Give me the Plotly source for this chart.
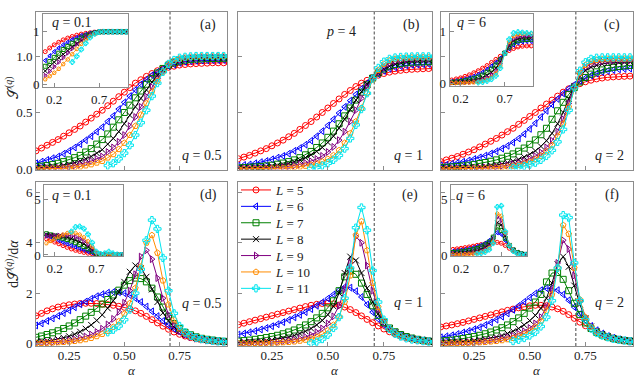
import plotly.graph_objects as go

W, H = 640, 379

# ---------------- data ----------------
alpha = [0.1, 0.125, 0.15, 0.175, 0.2, 0.225, 0.25, 0.275, 0.3, 0.325, 0.35, 0.375,
         0.4, 0.425, 0.45, 0.475, 0.5, 0.525, 0.55, 0.575, 0.6, 0.625, 0.65, 0.675,
         0.7, 0.725, 0.75, 0.775, 0.8, 0.825, 0.85, 0.875, 0.9, 0.925, 0.95, 0.975]
alpha_L11 = [0.425, 0.45, 0.475, 0.5, 0.525, 0.55, 0.575, 0.6, 0.625, 0.65, 0.675, 0.7,
             0.725, 0.75, 0.775, 0.8, 0.825, 0.85, 0.875, 0.9, 0.925, 0.95, 0.975]
alpha_in = [0.1, 0.15, 0.2, 0.25, 0.3, 0.35, 0.4, 0.45, 0.5, 0.55, 0.6, 0.65, 0.7,
            0.75, 0.8, 0.85, 0.9, 0.95, 1.0]
alpha_in_L11 = [0.4, 0.45, 0.5, 0.55, 0.6, 0.65, 0.7, 0.75, 0.8, 0.85, 0.9, 0.95, 1.0]
alpha_c = 0.707

L_sizes = [5, 6, 7, 8, 9, 10, 11]

# S^(q), q = 0.5  (panel a)
S_q05 = [
    [.16, .185, .21, .235, .26, .29, .32, .35, .38, .415, .45, .485, .52, .56, .60, .64, .68, .72,
     .76, .79, .82, .845, .87, .885, .90, .91, .92, .925, .93, .933, .935, .937, .94, .94, .94, .94],
    [.05, .065, .08, .095, .11, .135, .16, .19, .22, .255, .29, .33, .37, .42, .47, .53, .59, .645,
     .70, .75, .79, .83, .86, .885, .91, .925, .94, .948, .955, .958, .96, .962, .963, .964, .965, .965],
    [.02, .025, .03, .04, .05, .065, .08, .10, .12, .15, .18, .22, .26, .31, .37, .435, .50, .565,
     .63, .69, .75, .80, .85, .89, .92, .94, .955, .963, .97, .973, .975, .977, .978, .979, .98, .98],
    [.01, .012, .015, .018, .02, .03, .04, .055, .07, .09, .11, .14, .17, .22, .27, .33, .40, .475,
     .55, .625, .70, .77, .83, .88, .92, .945, .96, .972, .98, .983, .985, .986, .987, .988, .988, .988],
    [.005, .006, .007, .008, .01, .015, .02, .03, .04, .055, .07, .09, .11, .15, .19, .24, .30, .38,
     .46, .55, .64, .725, .80, .865, .92, .95, .97, .98, .985, .988, .99, .99, .991, .992, .992, .992],
    [0, 0, .001, .002, .003, .005, .01, .015, .02, .03, .04, .055, .07, .10, .13, .175, .23, .30,
     .38, .48, .58, .685, .78, .86, .92, .955, .975, .985, .99, .993, .995, .995, .996, .996, .996, .996],
    [.03, .05, .09, .14, .21, .30, .41, .52, .645, .76, .86, .93, .965, .985, .993, .997, 1.0, 1.0,
     1.0, 1.0, 1.0, 1.0, 1.0],
]

# S^(q), q = 1  (panel b)
S_q1 = [
    [.09, .105, .12, .14, .16, .18, .205, .23, .255, .285, .315, .35, .385, .42, .46, .50, .54, .58,
     .62, .66, .695, .73, .76, .785, .81, .83, .845, .857, .866, .873, .878, .882, .885, .887, .889, .89],
    [.03, .035, .04, .05, .06, .07, .085, .10, .115, .135, .16, .185, .215, .25, .29, .335, .385, .44,
     .495, .55, .605, .66, .71, .76, .805, .84, .868, .888, .90, .91, .917, .922, .925, .927, .929, .93],
    [.01, .012, .015, .018, .022, .027, .033, .042, .052, .065, .08, .10, .125, .155, .19, .23, .28, .335,
     .40, .47, .54, .61, .68, .745, .805, .85, .885, .91, .925, .935, .941, .945, .947, .949, .95, .95],
    [.005, .006, .008, .01, .013, .017, .022, .03, .038, .05, .063, .08, .10, .125, .155, .19, .235, .29,
     .36, .44, .525, .61, .685, .75, .805, .85, .885, .91, .93, .942, .95, .955, .96, .962, .964, .965],
    [.002, .003, .003, .004, .005, .007, .009, .012, .016, .022, .03, .04, .052, .068, .088, .115, .15, .195,
     .255, .33, .42, .52, .625, .72, .80, .86, .905, .935, .952, .962, .968, .972, .974, .975, .976, .976],
    [0, 0, .001, .001, .002, .003, .004, .006, .008, .011, .015, .02, .027, .036, .048, .065, .088, .12,
     .165, .23, .315, .42, .54, .67, .79, .875, .93, .96, .974, .98, .984, .986, .987, .988, .988, .988],
    [.005, .015, .03, .05, .08, .12, .18, .27, .39, .53, .67, .80, .895, .95, .975, .987, .992, .995,
     .996, .997, .997, .997, .997],
]

# S^(q), q = 2  (panel c)
S_q2 = [
    [.065, .08, .095, .11, .13, .15, .17, .195, .22, .245, .27, .30, .33, .36, .395, .43, .465, .50,
     .54, .575, .61, .645, .68, .71, .735, .755, .772, .786, .797, .805, .811, .815, .818, .82, .822, .823],
    [.03, .037, .045, .054, .064, .075, .088, .102, .118, .136, .156, .18, .205, .235, .27, .31, .355, .405,
     .46, .515, .57, .62, .668, .71, .746, .778, .805, .827, .845, .858, .868, .876, .882, .886, .889, .89],
    [.012, .015, .018, .022, .027, .033, .04, .048, .057, .068, .08, .095, .112, .133, .157, .185, .218, .257,
     .303, .36, .44, .515, .59, .66, .72, .77, .81, .84, .86, .877, .89, .90, .907, .913, .917, .92],
    [.004, .005, .006, .007, .009, .011, .014, .018, .022, .028, .035, .044, .055, .068, .085, .105, .13, .16,
     .20, .25, .315, .40, .50, .62, .735, .82, .87, .90, .918, .93, .937, .942, .945, .947, .948, .95],
    [.002, .002, .003, .003, .004, .005, .007, .009, .012, .015, .02, .026, .033, .042, .054, .069, .088, .113,
     .146, .19, .25, .33, .44, .58, .73, .84, .90, .93, .945, .952, .956, .958, .96, .96, .96, .96],
    [0, 0, .001, .001, .002, .002, .003, .004, .006, .008, .011, .015, .02, .027, .036, .048, .064, .085,
     .115, .155, .21, .29, .40, .55, .72, .85, .92, .952, .965, .97, .973, .975, .975, .975, .975, .975],
    [.01, .017, .026, .038, .055, .08, .115, .165, .24, .35, .52, .72, .87, .945, .975, .985, .988, .988,
     .988, .988, .988, .988, .988],
]

# dS^(q)/d alpha, q = 0.5  (panel d)
D_q05 = [
    [1.10, 1.20, 1.30, 1.38, 1.45, 1.50, 1.54, 1.57, 1.59, 1.60, 1.60, 1.59, 1.57, 1.55, 1.52, 1.48, 1.44, 1.38,
     1.30, 1.20, 1.08, .95, .82, .69, .57, .46, .37, .30, .24, .19, .16, .13, .11, .09, .08, .07],
    [.72, .80, .90, 1.0, 1.1, 1.21, 1.32, 1.44, 1.56, 1.67, 1.78, 1.88, 1.96, 2.02, 2.05, 2.04, 2.0, 1.92,
     1.8, 1.65, 1.47, 1.28, 1.09, .90, .73, .59, .47, .37, .29, .23, .18, .15, .12, .10, .08, .07],
    [.25, .30, .36, .43, .51, .60, .70, .82, .95, 1.09, 1.24, 1.40, 1.57, 1.75, 1.93, 2.12, 2.32, 2.50,
     2.60, 2.58, 2.45, 2.20, 1.85, 1.45, 1.08, .80, .60, .45, .35, .27, .21, .17, .14, .11, .09, .08],
    [.07, .09, .11, .14, .18, .23, .29, .37, .47, .59, .74, .92, 1.14, 1.40, 1.70, 2.05, 2.45, 2.85,
     3.10, 3.0, 2.65, 2.15, 1.65, 1.22, .90, .66, .50, .38, .29, .22, .17, .14, .11, .09, .08, .07],
    [.03, .04, .05, .06, .08, .10, .13, .17, .22, .28, .36, .46, .59, .76, .98, 1.26, 1.62, 2.10,
     2.75, 3.45, 3.70, 3.35, 2.60, 1.80, 1.15, .75, .50, .35, .26, .20, .16, .13, .11, .09, .08, .07],
    [.02, .02, .03, .04, .05, .06, .08, .10, .13, .17, .22, .29, .38, .50, .66, .88, 1.18, 1.60,
     2.20, 3.05, 4.0, 4.30, 3.60, 2.50, 1.55, .95, .60, .40, .28, .21, .16, .13, .11, .09, .08, .07],
    [.45, .55, .70, .95, 1.35, 2.0, 2.95, 4.10, 4.90, 4.55, 3.40, 2.10, 1.20, .70, .45, .31, .23, .18,
     .14, .11, .09, .08, .07],
]

# dS^(q)/d alpha, q = 1  (panel e)
D_q1 = [
    [.75, .81, .87, .93, .99, 1.05, 1.11, 1.17, 1.23, 1.29, 1.35, 1.41, 1.47, 1.52, 1.56, 1.59, 1.60, 1.58,
     1.53, 1.45, 1.35, 1.23, 1.10, .96, .83, .70, .58, .47, .38, .30, .24, .19, .15, .12, .10, .08],
    [.36, .40, .45, .50, .56, .62, .69, .77, .85, .94, 1.04, 1.14, 1.25, 1.37, 1.50, 1.64, 1.79, 1.95,
     2.12, 2.24, 2.22, 2.08, 1.85, 1.55, 1.25, .97, .74, .56, .43, .33, .26, .20, .16, .13, .10, .08],
    [.10, .12, .14, .17, .20, .24, .28, .33, .39, .46, .54, .63, .74, .87, 1.02, 1.20, 1.42, 1.70,
     2.10, 2.65, 2.88, 2.75, 2.40, 1.95, 1.50, 1.12, .83, .62, .47, .36, .28, .22, .17, .13, .10, .08],
    [.04, .05, .06, .07, .09, .11, .14, .17, .21, .26, .32, .40, .49, .60, .74, .92, 1.15, 1.48,
     2.0, 2.80, 3.45, 3.30, 2.80, 2.20, 1.65, 1.18, .84, .60, .44, .33, .25, .19, .15, .12, .09, .07],
    [.02, .02, .03, .03, .04, .05, .06, .07, .09, .12, .15, .20, .26, .34, .45, .60, .80, 1.08,
     1.50, 2.15, 3.20, 4.25, 4.00, 3.10, 2.10, 1.35, .88, .60, .43, .32, .25, .19, .15, .12, .09, .07],
    [.01, .01, .01, .02, .02, .03, .03, .04, .05, .06, .08, .11, .15, .20, .27, .37, .52, .74,
     1.08, 1.65, 2.70, 4.30, 4.85, 3.70, 2.40, 1.45, .90, .60, .42, .31, .24, .18, .14, .11, .09, .07],
    [.02, .08, .18, .35, .62, 1.05, 1.80, 3.0, 4.6, 5.4, 4.5, 2.9, 1.65, .95, .58, .39, .28, .21,
     .16, .13, .10, .08, .07],
]

# dS^(q)/d alpha, q = 2  (panel f)
D_q2 = [
    [.66, .70, .74, .79, .84, .90, .96, 1.02, 1.08, 1.14, 1.20, 1.26, 1.32, 1.37, 1.42, 1.46, 1.50, 1.52,
     1.52, 1.50, 1.45, 1.38, 1.28, 1.15, 1.0, .85, .71, .58, .46, .36, .28, .22, .17, .13, .10, .08],
    [.25, .29, .33, .38, .44, .50, .57, .65, .74, .84, .95, 1.07, 1.20, 1.34, 1.50, 1.66, 1.83, 1.99,
     2.12, 2.20, 2.20, 2.12, 1.95, 1.72, 1.45, 1.17, .92, .70, .53, .40, .30, .23, .17, .13, .10, .08],
    [.10, .12, .14, .17, .20, .24, .28, .33, .39, .46, .54, .63, .74, .87, 1.02, 1.20, 1.41, 1.65,
     1.95, 2.45, 2.80, 2.82, 2.55, 2.10, 1.60, 1.15, .82, .60, .45, .34, .26, .20, .16, .12, .10, .08],
    [.03, .04, .05, .06, .07, .09, .11, .14, .17, .21, .26, .32, .40, .49, .60, .74, .91, 1.12,
     1.40, 1.80, 2.40, 3.15, 3.45, 3.05, 2.30, 1.55, 1.0, .68, .50, .38, .29, .22, .17, .13, .10, .08],
    [.02, .02, .03, .03, .04, .05, .06, .08, .10, .13, .16, .20, .25, .31, .39, .49, .62, .80,
     1.05, 1.45, 2.10, 3.20, 4.10, 3.75, 2.70, 1.70, 1.05, .68, .48, .36, .28, .21, .16, .12, .09, .07],
    [.01, .01, .015, .02, .025, .03, .04, .05, .06, .08, .10, .13, .17, .22, .29, .38, .50, .66,
     .90, 1.30, 1.95, 3.0, 4.70, 4.35, 3.0, 1.75, 1.05, .66, .46, .34, .26, .20, .15, .12, .09, .07],
    [.10, .15, .22, .32, .46, .68, 1.05, 1.70, 3.0, 5.1, 5.0, 3.2, 1.7, .95, .60, .42, .32, .25,
     .19, .15, .12, .09, .07],
]

# insets: S^(q) for q = 0.1 and q = 6
S_q01 = [
    [.62, .69, .75, .80, .845, .88, .91, .935, .955, .97, .982, .992, .998, 1.0, 1.0, 1.0, 1.0, 1.0, 1.0],
    [.45, .54, .62, .69, .75, .80, .85, .89, .925, .95, .97, .985, .997, 1.0, 1.0, 1.0, 1.0, 1.0, 1.0],
    [.34, .43, .51, .59, .66, .72, .78, .83, .88, .92, .955, .98, .995, 1.0, 1.0, 1.0, 1.0, 1.0, 1.0],
    [.25, .34, .42, .50, .57, .64, .71, .77, .83, .88, .93, .97, .995, 1.0, 1.0, 1.0, 1.0, 1.0, 1.0],
    [.16, .245, .33, .42, .505, .595, .68, .765, .84, .90, .95, .985, .998, 1.0, 1.0, 1.0, 1.0, 1.0, 1.0],
    [.09, .15, .215, .29, .38, .47, .57, .67, .77, .85, .92, .97, .995, 1.0, 1.0, 1.0, 1.0, 1.0, 1.0],
    [.42, .53, .66, .78, .89, .96, .995, 1.0, 1.0, 1.0, 1.0, 1.0, 1.0],
]
S_q6 = [
    [.06, .08, .10, .13, .16, .20, .24, .29, .34, .40, .46, .52, .58, .63, .67, .70, .715, .72, .72],
    [.03, .04, .055, .075, .10, .13, .165, .21, .265, .33, .40, .48, .58, .67, .74, .78, .80, .81, .81],
    [.015, .02, .03, .045, .06, .085, .115, .155, .21, .27, .35, .45, .58, .70, .78, .82, .84, .845, .85],
    [.008, .01, .015, .025, .035, .05, .075, .105, .15, .21, .29, .41, .58, .73, .82, .86, .875, .88, .88],
    [.004, .005, .008, .012, .018, .028, .045, .07, .105, .155, .235, .37, .58, .76, .86, .90, .91, .915, .915],
    [.002, .003, .004, .006, .009, .014, .024, .04, .068, .11, .185, .33, .58, .80, .91, .945, .955, .96, .96],
    [.01, .02, .04, .075, .14, .29, .58, .85, .97, .99, .98, .97, .96],
]
# insets: dS^(q)/d alpha for q = 0.1 and q = 6
D_q01 = [
    [1.45, 1.30, 1.15, 1.0, .84, .68, .54, .42, .32, .23, .16, .10, .05, .02, .01, 0, 0, 0, 0],
    [1.75, 1.6, 1.45, 1.3, 1.15, 1.0, .86, .72, .58, .45, .32, .2, .08, .02, .01, 0, 0, 0, 0],
    [1.9, 1.8, 1.7, 1.6, 1.5, 1.38, 1.25, 1.1, .94, .76, .56, .34, .12, .03, .02, .01, 0, 0, 0],
    [1.85, 1.8, 1.75, 1.7, 1.64, 1.56, 1.46, 1.34, 1.18, .98, .74, .45, .15, .04, .03, .01, 0, 0, 0],
    [1.7, 1.72, 1.74, 1.76, 1.77, 1.76, 1.72, 1.63, 1.48, 1.26, .96, .58, .18, .05, .05, .02, .01, 0, 0],
    [1.05, 1.25, 1.45, 1.65, 1.82, 1.95, 2.0, 1.96, 1.82, 1.58, 1.22, .75, .22, .06, .08, .05, .02, .01, 0],
    [2.1, 2.5, 2.55, 2.35, 1.85, 1.1, .3, .1, .15, .3, .15, .05, 0],
]
D_q6 = [
    [.5, .55, .6, .66, .72, .79, .86, .93, 1.0, 1.07, 1.12, 1.13, 1.05, .85, .6, .38, .2, .1, .05],
    [.33, .37, .42, .48, .55, .64, .75, .88, 1.05, 1.3, 1.6, 2.0, 1.85, 1.3, .8, .45, .22, .1, .05],
    [.22, .25, .29, .34, .4, .48, .58, .72, .9, 1.15, 1.6, 2.5, 2.2, 1.5, .85, .45, .22, .1, .05],
    [.12, .14, .17, .21, .26, .32, .4, .52, .68, .95, 1.5, 2.9, 2.7, 1.7, .9, .45, .2, .08, .04],
    [.07, .08, .1, .12, .15, .2, .27, .37, .52, .78, 1.35, 3.4, 3.1, 1.9, .9, .42, .18, .07, .03],
    [.04, .05, .06, .07, .09, .12, .17, .25, .38, .62, 1.2, 3.7, 3.5, 2.0, .9, .4, .16, .06, .02],
    [.1, .16, .27, .48, 1.05, 4.3, 4.4, 2.1, .85, .35, .12, .04, .01],
]

# ---------------- style ----------------
colors = ['#ff0000', '#0000ff', '#008000', '#000000', '#800080', '#ff8c00', '#00e5ee']
symbols = ['circle-open', 'triangle-left-open', 'square-open', 'x-thin',
           'triangle-right-open', 'pentagon-open', 'cross-open']
SERIF = 'Liberation Serif'
FRAME = '#8c8c8c'
legend_ids = ['legend', 'legend2', 'legend3', 'legend4', 'legend5', 'legend6', 'legend7']

fig = go.Figure()


def px_x(v):
    return v / W


def px_y(v):
    return 1 - v / H


def add_panel(n, xs, xs11, series, msize, lw, legend=False):
    sfx = '' if n == 1 else str(n)
    for i, ys in enumerate(series):
        fig.add_trace(go.Scatter(
            x=xs11 if i == 6 else xs, y=ys,
            mode='lines+markers',
            name=f'<i>L</i> = {L_sizes[i]}',
            showlegend=legend, legend=legend_ids[i],
            xaxis='x' + sfx, yaxis='y' + sfx,
            line=dict(color=colors[i], width=lw),
            marker=dict(symbol=symbols[i], size=msize, color=colors[i],
                        line=dict(color=colors[i], width=1)),
            hoverinfo='skip',
        ))


add_panel(1, alpha, alpha_L11, S_q05, 6, 1, legend=True)
add_panel(2, alpha, alpha_L11, S_q1, 6, 1)
add_panel(3, alpha, alpha_L11, S_q2, 6, 1)
add_panel(4, alpha, alpha_L11, D_q05, 6, 1)
add_panel(5, alpha, alpha_L11, D_q1, 6, 1)
add_panel(6, alpha, alpha_L11, D_q2, 6, 1)
add_panel(7, alpha_in, alpha_in_L11, S_q01, 4, 0.8)
add_panel(8, alpha_in, alpha_in_L11, S_q6, 4, 0.8)
add_panel(9, alpha_in, alpha_in_L11, D_q01, 4, 0.8)
add_panel(10, alpha_in, alpha_in_L11, D_q6, 4, 0.8)


def ax(domain, rng, tickvals, ticktext=None, anchor=None, standoff=0):
    d = dict(domain=domain, range=rng, tickvals=tickvals,
             showline=True, mirror=True, linecolor=FRAME, linewidth=1,
             ticks='inside', ticklen=4, tickcolor=FRAME, tickwidth=1,
             showgrid=False, zeroline=False, ticklabelstandoff=standoff,
             tickfont=dict(family=SERIF, size=13, color='#222'))
    if ticktext is None:
        d['showticklabels'] = False
    else:
        d['ticktext'] = ticktext
    if anchor:
        d['anchor'] = anchor
    return d


top_y = [px_y(169.5), px_y(12)]
bot_y = [px_y(346), px_y(182.3)]
col_x = [[px_x(36), px_x(227)], [px_x(238.3), px_x(432)], [px_x(440.7), px_x(633.3)]]
xr = [0.1, 0.965]
xt = [0.25, 0.5, 0.75]
S_rng = [-0.005, 1.39]
D_rng = [-0.095, 6.4]

layout_axes = {}
names = ['', '2', '3', '4', '5', '6']
for k in range(6):
    row_top = k < 3
    c = k % 3
    sfx = names[k]
    layout_axes['xaxis' + sfx] = ax(col_x[c], xr, xt,
                                    None if row_top else ['0.25', '0.50', '0.75'],
                                    anchor='y' + sfx, standoff=0 if row_top else -3)
    if row_top:
        layout_axes['yaxis' + sfx] = ax(top_y, S_rng, [0, 0.5, 1.0],
                                        ['0.0', '0.5', '1.0'] if c == 0 else None,
                                        anchor='x' + sfx)
    else:
        layout_axes['yaxis' + sfx] = ax(bot_y, D_rng, [0, 2, 4, 6],
                                        ['0', '2', '4', '6'] if c == 0 else None,
                                        anchor='x' + sfx)

insets = {
    '7': ([px_x(43), px_x(128)], [px_y(87), px_y(14)], [-0.057, 1.34], [0, 1], ['0', '1']),
    '8': ([px_x(449.5), px_x(533)], [px_y(86), px_y(14)], [-0.057, 1.34], [0, 1], ['0', '1']),
    '9': ([px_x(44.3), px_x(123)], [px_y(256), px_y(185)], [-0.09, 6.26], [0, 5], ['0', '5']),
    '10': ([px_x(451), px_x(527)], [px_y(256), px_y(185)], [-0.09, 6.26], [0, 5], ['0', '5']),
}
for sfx, (dx, dy, yr, yt, ytt) in insets.items():
    layout_axes['xaxis' + sfx] = ax(dx, [0.075, 1.02], [0.2, 0.7], ['0.2', '0.7'], anchor='y' + sfx)
    layout_axes['yaxis' + sfx] = ax(dy, yr, yt, ytt, anchor='x' + sfx)

fig.update_layout(**layout_axes)

# one single-entry legend per system size, stacked inside panel (e)
legends = {}
for i, lid in enumerate(legend_ids):
    legends[lid] = dict(x=px_x(236), y=px_y(190 + 16.4 * i), xanchor='left', yanchor='middle',
                        xref='paper', yref='paper',
                        bgcolor='rgba(0,0,0,0)', borderwidth=0,
                        font=dict(family=SERIF, size=13, color='#222'),
                        itemwidth=30, tracegroupgap=0)
fig.update_layout(**legends)

# critical-point dashed lines
shapes = []
for sfx in ['', '2', '3', '4', '5', '6', '7', '8', '9', '10']:
    shapes.append(dict(type='line', xref='x' + sfx, yref=('y' + sfx) + ' domain',
                       x0=alpha_c, x1=alpha_c, y0=0, y1=1,
                       line=dict(color='#444', width=1, dash='3px,2px'), layer='below'))

ann = []


def label(text, x, y, size=14, angle=0):
    ann.append(dict(text=text, x=px_x(x), y=px_y(y), xref='paper', yref='paper',
                    xanchor='center', yanchor='middle',
                    showarrow=False, textangle=angle,
                    font=dict(family=SERIF, size=size, color='#222')))


for t, x, y in [('(a)', 208, 25), ('(b)', 411, 25), ('(c)', 612, 25),
                ('(d)', 208, 195), ('(e)', 410, 195), ('(f)', 612, 195)]:
    label(t, x, y)
label('<i>p</i> = 4', 341, 32)
label('<i>q</i> = 0.5', 201, 155)
label('<i>q</i> = 1', 408, 155)
label('<i>q</i> = 2', 609, 155)
label('<i>q</i> = 0.5', 201, 303)
label('<i>q</i> = 1', 408, 302)
label('<i>q</i> = 2', 609, 302)
label('<i>q</i> = 0.1', 71, 23)
label('<i>q</i> = 6', 471, 23)
label('<i>q</i> = 0.1', 71, 195)
label('<i>q</i> = 6', 470, 195)
for x in [131.5, 335, 537]:
    label('<i>α</i>', x, 370, size=13)
label('𝒮<sup>(<i>q</i>)</sup>', 12, 88, size=14, angle=-90)
label('d𝒮<sup>(<i>q</i>)</sup>/d<i>α</i>', 12, 264, size=14, angle=-90)

fig.update_layout(
    width=W, height=H,
    margin=dict(l=0, r=0, t=0, b=0, autoexpand=False),
    paper_bgcolor='white', plot_bgcolor='white',
    shapes=shapes, annotations=ann,
    showlegend=True,
    font=dict(family=SERIF),
)

# page body margin would push the 640x379 figure out of the window
fig.write_html('out.html',
               config={'displayModeBar': False, 'staticPlot': True},
               post_script="document.body.style.margin='0px';document.body.style.overflow='hidden';")
